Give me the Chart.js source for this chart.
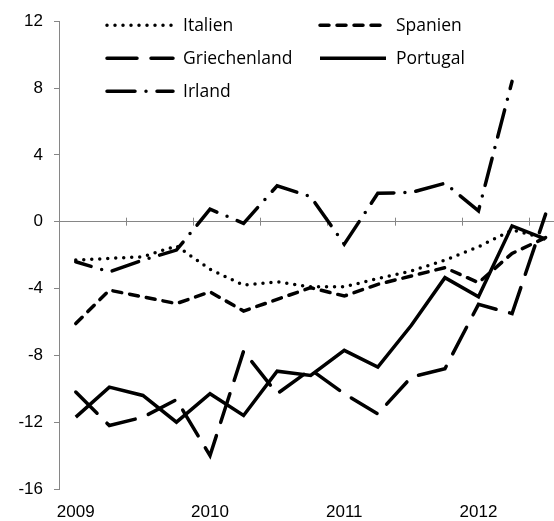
<!DOCTYPE html>
<html>
<head>
<meta charset="utf-8">
<script src="https://cdn.jsdelivr.net/npm/chart.js@4/dist/chart.umd.min.js"></script>
<style>
html,body{margin:0;padding:0;background:#fff;}
#wrap{width:554px;height:521px;position:relative;}
</style>
</head>
<body>
<div id="wrap"><canvas id="c"></canvas></div>
<script>
// Quarterly categories 2009Q1 .. 2012Q3
const quarters = ['2009Q1','2009Q2','2009Q3','2009Q4','2010Q1','2010Q2','2010Q3','2010Q4',
                  '2011Q1','2011Q2','2011Q3','2011Q4','2012Q1','2012Q2','2012Q3'];
// Year labels shown on the x axis (at each Q1)
const yearLabels = ['2009','2010','2011','2012'];
const yearTickIndex = [0, 4, 8, 12];
// Small tick marks on the zero line (every half year, between categories)
const halfYearTicks = [-0.5, 1.5, 3.5, 5.5, 7.5, 9.5, 11.5, 13.5];
// Y-axis ticks
const yTicks = [-16, -12, -8, -4, 0, 4, 8, 12];

// Series values
const italien      = [-2.3, -2.2, -2.1, -1.45, -2.85, -3.8, -3.6, -3.9, -3.9, -3.4, -2.95, -2.3, -1.5, -0.5, -1.0];
const spanien      = [-6.1, -4.1, -4.5, -4.9, -4.2, -5.35, -4.65, -3.95, -4.45, -3.75, -3.25, -2.75, -3.65, -1.9, -0.95];
const griechenland = [-10.2, -12.2, -11.7, -10.65, -14.0, -7.75, -10.3, -8.85, -10.3, -11.5, -9.3, -8.8, -4.95, -5.5, 0.45];
const portugal     = [-11.7, -9.9, -10.4, -12.0, -10.3, -11.6, -8.95, -9.2, -7.7, -8.7, -6.2, -3.35, -4.5, -0.25, -1.05];
const irland       = [-2.4, -3.0, -2.3, -1.7, 0.75, -0.1, 2.15, 1.5, -1.35, 1.7, 1.75, 2.3, 0.65, 8.4, null];

const seriesNames = ['Italien','Spanien','Griechenland','Portugal','Irland'];

const toPts = arr => arr.map((v, i) => ({x: i, y: v}));
const LW = 3.5;
const AXIS_GREY = '#868686';

const datasets = [
  {label: seriesNames[0], data: toPts(italien),      borderDash: [0, 8]},
  {label: seriesNames[1], data: toPts(spanien),      borderDash: [9, 8]},
  {label: seriesNames[2], data: toPts(griechenland), borderDash: [30, 14]},
  {label: seriesNames[3], data: toPts(portugal),     borderDash: []},
  {label: seriesNames[4], data: toPts(irland),       borderDash: [28, 11, 0, 11], borderDashOffset: 12}
].map(d => Object.assign({
  borderColor: '#000', backgroundColor: '#000', borderWidth: LW,
  borderCapStyle: d.borderDash.length ? 'round' : 'butt', borderJoinStyle: 'miter',
  pointRadius: 0, pointHoverRadius: 0, tension: 0, fill: false, spanGaps: false
}, d));

// Tick marks across the zero line
const zeroTicks = {
  id: 'zeroTicks',
  beforeDatasetsDraw(chart) {
    const {ctx, scales: {x, y}} = chart;
    const y0 = y.getPixelForValue(0);
    ctx.save();
    ctx.strokeStyle = AXIS_GREY;
    ctx.lineWidth = 1;
    halfYearTicks.forEach(v => {
      const px = Math.round(x.getPixelForValue(v)) + 0.5;
      ctx.beginPath();
      ctx.moveTo(px, y0 - 4);
      ctx.lineTo(px, y0 + 4);
      ctx.stroke();
    });
    ctx.restore();
  }
};

// Legend drawn inside the plot area in a two-column grid
const inLegend = {
  id: 'inLegend',
  afterDraw(chart) {
    const {ctx, chartArea} = chart;
    const colX = [48, 261], rowY = [4, 37, 70], sample = 66, gap = 10;
    ctx.save();
    chart.data.datasets.forEach((ds, i) => {
      const cx = chartArea.left + colX[i % 2];
      const cy = chartArea.top + rowY[Math.floor(i / 2)];
      ctx.strokeStyle = ds.borderColor;
      ctx.lineWidth = ds.borderWidth;
      ctx.lineCap = ds.borderCapStyle;
      ctx.setLineDash(ds.borderDash);
      ctx.beginPath();
      ctx.moveTo(cx, cy);
      ctx.lineTo(cx + sample, cy);
      ctx.stroke();
      ctx.setLineDash([]);
      ctx.fillStyle = '#000';
      ctx.font = '17.5px "Open Sans"';
      ctx.textBaseline = 'middle';
      ctx.textAlign = 'left';
      ctx.fillText(ds.label, cx + sample + gap, cy + 1);
    });
    ctx.restore();
  }
};

new Chart(document.getElementById('c'), {
  type: 'line',
  data: {datasets},
  options: {
    responsive: true,
    maintainAspectRatio: false,
    animation: false,
    devicePixelRatio: 1,
    layout: {padding: {top: 18, right: 0, left: 0, bottom: 0}},
    plugins: {legend: {display: false}, tooltip: {enabled: false}},
    scales: {
      x: {
        type: 'linear',
        min: -0.5,
        max: 14.25,
        grid: {display: false, drawTicks: false},
        border: {display: false},
        afterBuildTicks: s => { s.ticks = yearTickIndex.map(v => ({value: v})); },
        afterFit: s => { s.height = 32; },
        ticks: {
          autoSkip: false, maxRotation: 0, padding: 13,
          color: '#000',
          font: {family: '"Liberation Sans", Arial, sans-serif', size: 17},
          callback: (v) => yearLabels[yearTickIndex.indexOf(v)] ?? ''
        }
      },
      y: {
        min: -16, max: 12,
        afterBuildTicks: s => { s.ticks = yTicks.map(v => ({value: v})); },
        afterFit: s => { s.width = 59; },
        grid: {
          drawOnChartArea: true,
          color: c => (c.tick && c.tick.value === 0) ? AXIS_GREY : 'rgba(0,0,0,0)',
          tickColor: AXIS_GREY,
          tickLength: 5,
          lineWidth: 1
        },
        border: {display: true, color: AXIS_GREY, width: 1},
        ticks: {
          padding: 11, color: '#000',
          font: {family: '"Liberation Sans", Arial, sans-serif', size: 17}
        }
      }
    }
  },
  plugins: [zeroTicks, inLegend]
});
</script>
</body>
</html>
